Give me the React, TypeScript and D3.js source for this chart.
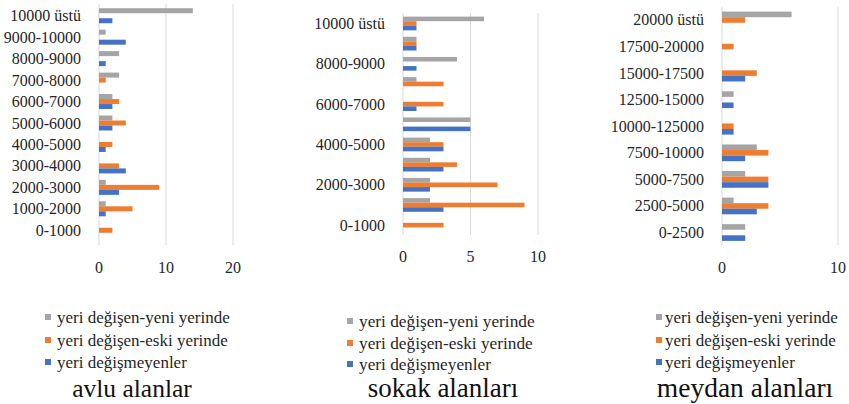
import React from "react";
import * as d3 from "d3";

// ---------- data (categories listed bottom -> top, as in the source chart) ----------
const seriesNames = ["yeri değişen-yeni yerinde", "yeri değişen-eski yerinde", "yeri değişmeyenler"];
const seriesColors = ["#A5A5A5", "#ED7D31", "#4472C4"];

const avluCategories = ["0-1000", "1000-2000", "2000-3000", "3000-4000", "4000-5000", "5000-6000", "6000-7000", "7000-8000", "8000-9000", "9000-10000", "10000 üstü"];
const avluYeni = [0, 1, 1, 0, 0, 2, 2, 3, 3, 1, 14];
const avluEski = [2, 5, 9, 3, 2, 4, 3, 1, 0, 0, 0];
const avluDegismeyen = [0, 1, 3, 4, 1, 2, 2, 0, 1, 4, 2];
const avluTicks = [0, 10, 20];

const sokakCategories = ["0-1000", "1000-2000", "2000-3000", "3000-4000", "4000-5000", "5000-6000", "6000-7000", "7000-8000", "8000-9000", "9000-10000", "10000 üstü"];
const sokakYeni = [0, 2, 2, 2, 2, 5, 0, 1, 4, 1, 6];
const sokakEski = [3, 9, 7, 4, 3, 0, 3, 3, 0, 1, 1];
const sokakDegismeyen = [0, 3, 2, 3, 3, 5, 1, 0, 1, 1, 1];
const sokakTicks = [0, 5, 10];

const meydanCategories = ["0-2500", "2500-5000", "5000-7500", "7500-10000", "10000-125000", "12500-15000", "15000-17500", "17500-20000", "20000 üstü"];
const meydanYeni = [2, 1, 2, 3, 0, 1, 0, 0, 6];
const meydanEski = [0, 4, 4, 4, 1, 0, 3, 1, 2];
const meydanDegismeyen = [2, 3, 4, 2, 1, 1, 2, 0, 0];
const meydanTicks = [0, 10];

const titles = ["avlu alanlar", "sokak alanları", "meydan alanları"];

// ---------- layout ----------
const FONT = "Liberation Serif";

type Panel = {
  categories: string[];
  series: number[][];
  ticks: number[];
  title: string;
  xLeft: number;
  xRight: number;
  bandTop: number;
  bandBottom: number;
  gridTop: number;
  gridBottom: number;
  tickY: number;
  labelEvery: number;
  padding: number;
  legendSquareX: number;
  legendTextX: number;
  legendY: number[];
  legendSize: number;
  titleX: number;
  titleY: number;
  titleSize: number;
};

const panels: Panel[] = [
  {
    categories: avluCategories,
    series: [avluYeni, avluEski, avluDegismeyen],
    ticks: avluTicks,
    title: titles[0],
    xLeft: 99, xRight: 233,
    bandTop: 5, bandBottom: 241,
    gridTop: 4, gridBottom: 245,
    tickY: 267,
    labelEvery: 1,
    padding: 0.3,
    legendSquareX: 45, legendTextX: 57, legendY: [317, 340, 362], legendSize: 17,
    titleX: 132, titleY: 397, titleSize: 25.5,
  },
  {
    categories: sokakCategories,
    series: [sokakYeni, sokakEski, sokakDegismeyen],
    ticks: sokakTicks,
    title: titles[1],
    xLeft: 403, xRight: 538,
    bandTop: 13.4, bandBottom: 235.2,
    gridTop: 13, gridBottom: 235,
    tickY: 256,
    labelEvery: 2,
    padding: 0.32,
    legendSquareX: 347, legendTextX: 359, legendY: [321, 343, 364], legendSize: 17.3,
    titleX: 443, titleY: 397, titleSize: 27,
  },
  {
    categories: meydanCategories,
    series: [meydanYeni, meydanEski, meydanDegismeyen],
    ticks: meydanTicks,
    title: titles[2],
    xLeft: 722, xRight: 838,
    bandTop: 6.7, bandBottom: 245.8,
    gridTop: 7, gridBottom: 245,
    tickY: 267,
    labelEvery: 1,
    padding: 0.37,
    legendSquareX: 656, legendTextX: 665, legendY: [317, 340, 362], legendSize: 17,
    titleX: 745, titleY: 397, titleSize: 27.5,
  },
];

const textStyle = (size: number): React.CSSProperties => ({
  fontFamily: FONT,
  fontSize: size,
});

function BarPanel({ p }: { p: Panel }) {
  const xMax = p.ticks[p.ticks.length - 1];
  const x = d3.scaleLinear().domain([0, xMax]).range([p.xLeft, p.xRight]);
  const y = d3
    .scaleBand<string>()
    .domain([...p.categories].reverse())
    .range([p.bandTop, p.bandBottom])
    .paddingInner(p.padding)
    .paddingOuter(p.padding / 2);
  const inner = d3
    .scaleBand<number>()
    .domain(d3.range(p.series.length))
    .range([0, y.bandwidth()]);

  return (
    <g>
      {p.ticks.map((t) => (
        <line key={"g" + t} x1={x(t)} x2={x(t)} y1={p.gridTop} y2={p.gridBottom} stroke="#d9d9d9" strokeWidth={1} />
      ))}
      {p.categories.map((c, ci) => (
        <g key={c} transform={`translate(0,${y(c)})`}>
          {p.series.map((s, si) =>
            s[ci] > 0 ? (
              <rect
                key={si}
                x={x(0)}
                y={inner(si)}
                width={x(s[ci]) - x(0)}
                height={inner.bandwidth()}
                fill={seriesColors[si]}
              />
            ) : null
          )}
        </g>
      ))}
      {p.categories.map((c, ci) =>
        ci % p.labelEvery === 0 ? (
          <text
            key={"l" + c}
            x={p.xLeft - 18}
            y={(y(c) as number) + y.bandwidth() / 2}
            textAnchor="end"
            dominantBaseline="central"
            style={textStyle(16)}
            fill="#262626"
          >
            {c}
          </text>
        ) : null
      )}
      {p.ticks.map((t) => (
        <text
          key={"t" + t}
          x={x(t)}
          y={p.tickY}
          textAnchor="middle"
          dominantBaseline="central"
          style={textStyle(16)}
          fill="#262626"
        >
          {t}
        </text>
      ))}
      {seriesNames.map((n, i) => (
        <g key={n}>
          <rect x={p.legendSquareX} y={p.legendY[i] - 3} width={6} height={6} fill={seriesColors[i]} />
          <text
            x={p.legendTextX}
            y={p.legendY[i]}
            dominantBaseline="central"
            style={textStyle(p.legendSize)}
            fill="#262626"
          >
            {n}
          </text>
        </g>
      ))}
      <text x={p.titleX} y={p.titleY} textAnchor="middle" style={textStyle(p.titleSize)} fill="#111">
        {p.title}
      </text>
    </g>
  );
}

export default function App() {
  return (
    <svg
      width={849}
      height={404}
      style={{ position: "absolute", left: 0, top: 0, background: "#fff" }}
    >
      <rect width={849} height={404} fill="#fff" />
      {panels.map((p, i) => (
        <BarPanel key={i} p={p} />
      ))}
    </svg>
  );
}
